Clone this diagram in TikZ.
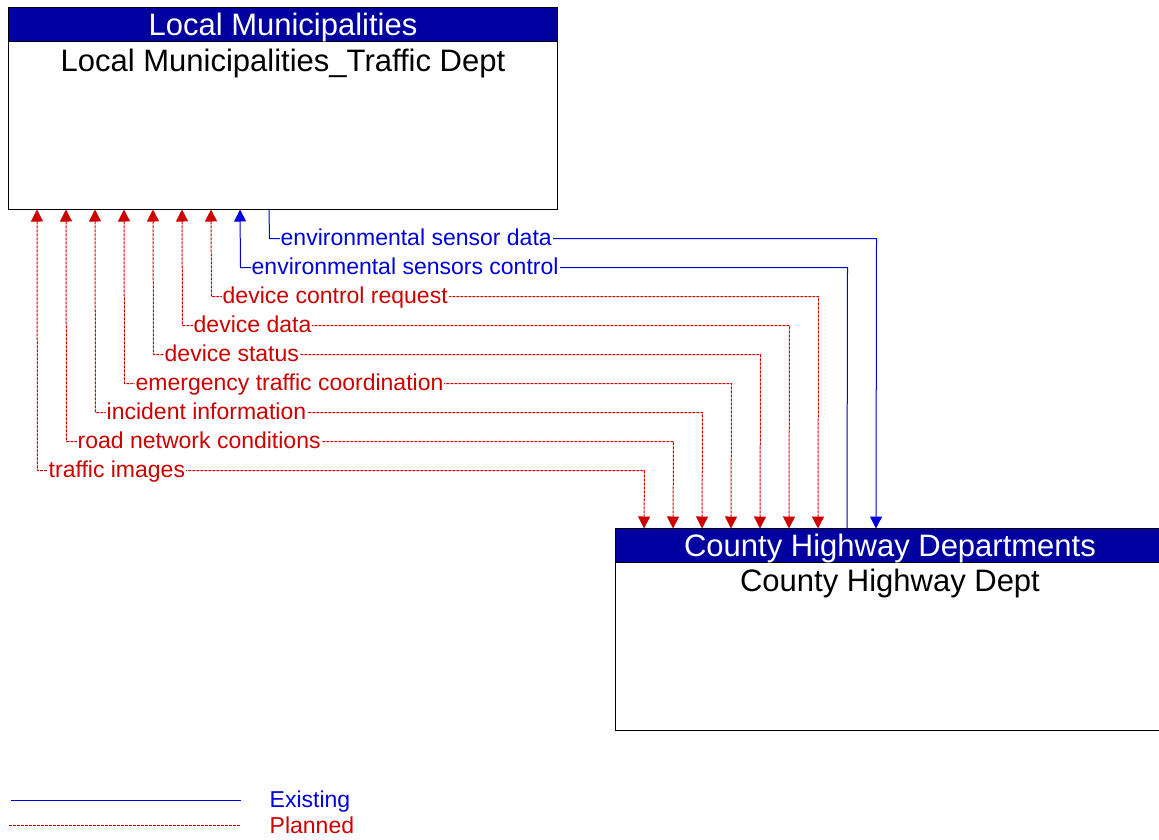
\documentclass[tikz,border=0pt]{standalone}
\usepackage{fontspec}
\setmainfont{Liberation Sans}
\usetikzlibrary{arrows.meta,calc}
\definecolor{hdr}{RGB}{0,0,160}
\definecolor{exist}{RGB}{0,0,220}
\definecolor{plan}{RGB}{205,0,0}
\begin{document}
\begin{tikzpicture}[x=1pt,y=-1pt,
  >={Triangle[width=12pt,length=12pt]},
  box/.style={draw=black, line width=0.8pt, fill=white, minimum width=549pt, minimum height=202pt, anchor=north west, inner sep=0pt, outer sep=0pt},
  hdrbox/.style={draw=black, line width=0.8pt, fill=hdr, minimum width=549pt, minimum height=34pt, anchor=north west, inner sep=0pt, outer sep=0pt, text=white, text depth=0pt, font=\fontsize{31}{32}\selectfont},
  subt/.style={anchor=center, inner sep=0pt, text depth=0pt, font=\fontsize{31}{32}\selectfont},
  planned/.style={draw=plan, line width=1pt, dash pattern=on 3pt off 1pt},
  existing/.style={draw=exist, line width=1pt},
  lbl/.style={fill=white, inner xsep=1pt, inner ysep=0pt, anchor=west, text height=17pt, text depth=4pt, font=\fontsize{23}{24}\selectfont}
]
\useasboundingbox (0,0) rectangle (1159,839);
% boxes
\node[box] (lm) at (8.5,7.5) {};
\node[hdrbox] (lmh) at (8.5,7.5) {Local Municipalities};
\node[subt] (lms) at (283,60) {Local Municipalities\_Traffic Dept};
\node[box] (ch) at (615.5,528.5) {};
\node[hdrbox] (chh) at (615.5,528.5) {County Highway Departments};
\node[subt] (chs) at (890,580) {County Highway Dept};

\begin{scope}[shift={(0.5,0.5)}]
% existing flows
\draw[existing, ->] ($(lm.south west)+(260.5,0)$) -- (269,238) -- (876,238) -- ($(ch.north west)+(260.5,0)$);
\node[lbl, text=exist] (f1) at (279,238) {environmental sensor data};
\draw[existing, ->] ($(ch.north west)+(231.5,0)$) -- (847,267) -- (240,267) -- ($(lm.south west)+(231.5,0)$);
\node[lbl, text=exist] (f2) at (250,267) {environmental sensors control};

% planned flows
\draw[planned, <->] ($(lm.south west)+(202.5,0)$) -- (211,296) -- (818,296) -- ($(ch.north west)+(202.5,0)$);
\node[lbl, text=plan] (f3) at (221,296) {device control request};
\draw[planned, <->] ($(lm.south west)+(173.5,0)$) -- (182,325) -- (789,325) -- ($(ch.north west)+(173.5,0)$);
\node[lbl, text=plan] (f4) at (192,325) {device data};
\draw[planned, <->] ($(lm.south west)+(144.5,0)$) -- (153,354) -- (760,354) -- ($(ch.north west)+(144.5,0)$);
\node[lbl, text=plan] (f5) at (163,354) {device status};
\draw[planned, <->] ($(lm.south west)+(115.5,0)$) -- (124,383) -- (731,383) -- ($(ch.north west)+(115.5,0)$);
\node[lbl, text=plan] (f6) at (134,383) {emergency traffic coordination};
\draw[planned, <->] ($(lm.south west)+(86.5,0)$) -- (95,412) -- (702,412) -- ($(ch.north west)+(86.5,0)$);
\node[lbl, text=plan] (f7) at (105,412) {incident information};
\draw[planned, <->] ($(lm.south west)+(57.5,0)$) -- (66,441) -- (673,441) -- ($(ch.north west)+(57.5,0)$);
\node[lbl, text=plan] (f8) at (76,441) {road network conditions};
\draw[planned, <->] ($(lm.south west)+(28.5,0)$) -- (37,470) -- (644,470) -- ($(ch.north west)+(28.5,0)$);
\node[lbl, text=plan] (f9) at (47,470) {traffic images};

% legend
\coordinate (e1) at (10,800);
\coordinate (e2) at (240,800);
\coordinate (p1) at (8,825);
\coordinate (p2) at (240,825);
\draw[existing] (e1) -- (e2);
\draw[planned] (p1) -- (p2);
\node[lbl, text=exist, fill=none] (le) at (268,800) {Existing};
\node[lbl, text=plan, fill=none] (lp) at (268,826) {Planned};
\end{scope}
\end{tikzpicture}
\end{document}
